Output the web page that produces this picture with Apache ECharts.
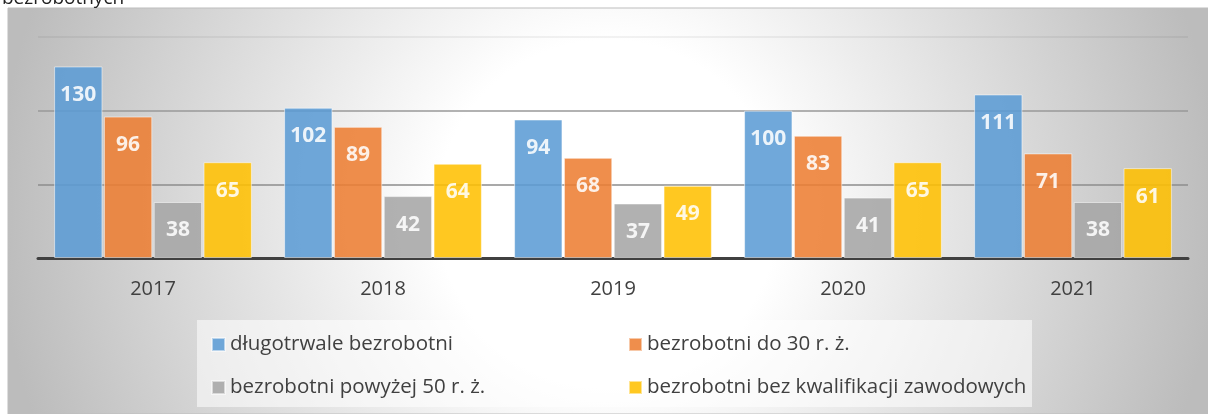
<!DOCTYPE html>
<html>
<head>
<meta charset="UTF-8">
<title>Bezrobotni</title>
<script src="https://cdn.jsdelivr.net/npm/echarts@6/dist/echarts.min.js"></script>
<style>
  html, body { margin: 0; padding: 0; background: #fff; }
  #chart { width: 1208px; height: 414px; }
</style>
</head>
<body>
<div id="chart"></div>
<script>
// dane
var lata = ['2017', '2018', '2019', '2020', '2021'];
var nazwy = ['długotrwale bezrobotni', 'bezrobotni do 30 r. ż.', 'bezrobotni powyżej 50 r. ż.', 'bezrobotni bez kwalifikacji zawodowych'];
var dlugotrwale = [130, 102, 94, 100, 111];
var do30 = [96, 89, 68, 83, 71];
var powyzej50 = [38, 42, 37, 41, 38];
var bezKwalifikacji = [65, 64, 49, 65, 61];
var kolory = ['#5b9bd5', '#ed7d31', '#a5a5a5', '#ffc000'];

var font = '"Open Sans", "Liberation Sans", sans-serif';
var myChart = echarts.init(document.getElementById('chart'));

function seria(i, dane) {
  return {
    name: nazwy[i],
    type: 'bar',
    data: dane,
    barGap: '3%',
    barCategoryGap: '14%',
    itemStyle: {
      color: kolory[i],
      opacity: 0.87,
      borderColor: 'rgba(255,255,255,0.6)',
      borderWidth: 1
    },
    label: {
      show: true,
      position: 'insideTop',
      distance: 18,
      color: '#fff',
      fontFamily: font,
      fontWeight: 'bold',
      fontSize: 21
    }
  };
}

var legendaTekst = { color: '#404040', fontFamily: font, fontSize: 20.5, lineHeight: 21 };

var option = {
  animation: false,
  graphic: [
    {
      type: 'text', left: 2, top: -11, silent: true,
      style: { text: 'bezrobotnych', font: '19px ' + font, fill: '#222' }
    },
    {
      type: 'rect', z: -10, silent: true,
      shape: { x: 8, y: 8, width: 1200, height: 406 },
      style: {
        stroke: '#bdbdbd', lineWidth: 1,
        fill: {
          type: 'radial', x: 0.5, y: 0.5, r: 1.5,
          colorStops: [
            { offset: 0, color: '#ffffff' },
            { offset: 0.28, color: '#ffffff' },
            { offset: 1, color: '#bcbcbc' }
          ]
        }
      }
    },
    {
      type: 'rect', z: -9, silent: true,
      shape: { x: 197, y: 320, width: 835, height: 87 },
      style: { fill: 'rgba(255,255,255,0.55)' }
    }
  ],
  grid: { left: 38, right: 20, top: 37, bottom: 156 },
  legend: [
    {
      data: [nazwy[0], nazwy[2]],
      orient: 'vertical', left: 206, top: 329,
      itemGap: 22, itemWidth: 13, itemHeight: 13, icon: 'rect',
      textStyle: legendaTekst
    },
    {
      data: [nazwy[1], nazwy[3]],
      orient: 'vertical', left: 623, top: 329,
      itemGap: 22, itemWidth: 13, itemHeight: 13, icon: 'rect',
      textStyle: legendaTekst
    }
  ],
  xAxis: {
    type: 'category',
    data: lata,
    axisLine: { lineStyle: { color: '#404040', width: 3 } },
    axisTick: { show: false },
    axisLabel: { color: '#404040', fontFamily: font, fontSize: 20, margin: 21 }
  },
  yAxis: {
    type: 'value',
    min: 0, max: 150, interval: 50,
    axisLabel: { show: false },
    axisLine: { show: false },
    axisTick: { show: false },
    splitLine: { lineStyle: { color: ['#8c8c8c', '#8c8c8c', '#999999', 'rgba(0,0,0,0.07)'], width: 1.5 } }
  },
  series: [
    seria(0, dlugotrwale),
    seria(1, do30),
    seria(2, powyzej50),
    seria(3, bezKwalifikacji)
  ]
};

myChart.setOption(option);
</script>
</body>
</html>
